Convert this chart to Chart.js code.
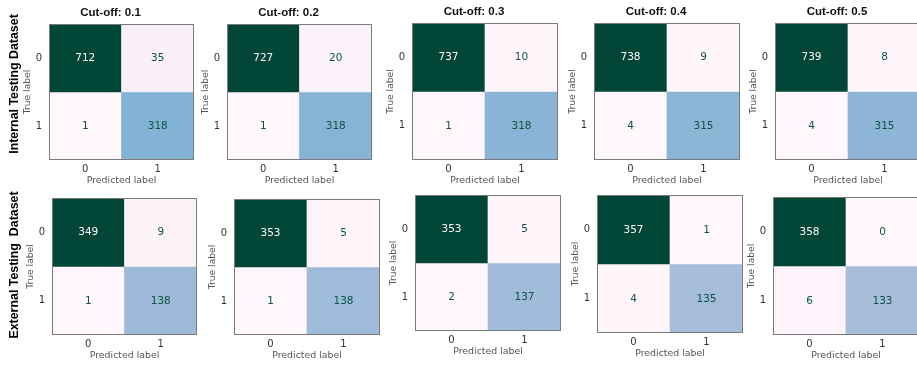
<!DOCTYPE html>
<html>
<head>
<meta charset="utf-8">
<script src="https://cdn.jsdelivr.net/npm/chart.js@4.4.1/dist/chart.umd.min.js"></script>
<style>
  html, body { margin: 0; padding: 0; background: #ffffff; }
  body { width: 917px; height: 365px; position: relative; overflow: hidden; }
  canvas.cm { position: absolute; }
  .rowlabel {
    position: absolute; white-space: pre; z-index: 5;
    font-family: "Liberation Sans", Arial, sans-serif; font-weight: bold;
    font-size: 12.4px; color: #000;
    transform: translate(-50%, -50%) rotate(-90deg);
  }
</style>
</head>
<body>
<div class="rowlabel" style="left:14px; top:84px;">Internal Testing Dataset</div>
<div class="rowlabel" style="left:14px; top:265px;">External Testing  Dataset</div>

<script>
// Decision thresholds, one panel per cut-off
const cutoffs = ['0.1', '0.2', '0.3', '0.4', '0.5'];
const classLabels = ['0', '1'];

// Internal testing set counts at each cut-off
const internalTN = [712, 727, 737, 738, 739];
const internalFP = [35, 20, 10, 9, 8];
const internalFN = [1, 1, 1, 4, 4];
const internalTP = [318, 318, 318, 315, 315];

// External testing set counts at each cut-off
const externalTN = [349, 353, 353, 357, 358];
const externalFP = [9, 5, 5, 1, 0];
const externalFN = [1, 1, 2, 4, 6];
const externalTP = [138, 138, 137, 135, 133];

// Plot-area boxes (left, top, right, bottom) of each panel
const topBoxes = [
  [49, 24, 194, 160], [227, 24, 372, 160], [412, 23, 558, 160],
  [594, 23, 740, 160], [775, 23, 921, 160]
];
const bottomBoxes = [
  [52, 198, 197, 335], [234, 199, 380, 335], [415, 195, 561, 331],
  [597, 195, 743, 333], [773, 197, 919, 335]
];

// PuBuGn colour map
const PUBUGN = ['#fff7fb', '#ece2f0', '#d0d1e6', '#a6bddb', '#67a9cf',
                '#3690c0', '#02818a', '#016c59', '#014636'];
function hexToRgb(h) {
  return [parseInt(h.slice(1, 3), 16), parseInt(h.slice(3, 5), 16), parseInt(h.slice(5, 7), 16)];
}
function cmap(t) {
  t = Math.max(0, Math.min(1, t));
  const pos = t * (PUBUGN.length - 1);
  const i = Math.min(Math.floor(pos), PUBUGN.length - 2);
  const f = pos - i;
  const a = hexToRgb(PUBUGN[i]), b = hexToRgb(PUBUGN[i + 1]);
  const c = a.map((v, k) => Math.round(v + (b[k] - v) * f));
  return 'rgb(' + c.join(',') + ')';
}

const LEFT_W = 48, RIGHT_W = 26, TOP_H = 24, BOTTOM_H = 30;

// Writes the count in the middle of every cell
const cellText = {
  id: 'cellText',
  afterDatasetsDraw(chart) {
    const ctx = chart.ctx;
    const counts = chart.options.plugins.cellText.counts;
    const flat = counts.flat();
    const lo = Math.min(...flat), hi = Math.max(...flat);
    const thresh = (lo + hi) / 2;
    ctx.save();
    ctx.font = '10.5px "DejaVu Sans", sans-serif';
    ctx.textAlign = 'center';
    ctx.textBaseline = 'middle';
    chart.data.datasets.forEach((ds, r) => {
      chart.getDatasetMeta(r).data.forEach((bar, c) => {
        const v = counts[r][c];
        ctx.fillStyle = v < thresh ? '#0d5446' : cmap(0);
        ctx.fillText(String(v), bar.x, (bar.y + bar.base) / 2 + 0.5);
      });
    });
    ctx.restore();
  }
};

// Frame around the plot area
const frame = {
  id: 'frame',
  afterDraw(chart) {
    const a = chart.chartArea, ctx = chart.ctx;
    ctx.save();
    ctx.strokeStyle = '#7a7a7a';
    ctx.lineWidth = 1;
    ctx.strokeRect(Math.round(a.left) + 0.5, Math.round(a.top) + 0.5,
                   Math.round(a.right - a.left) - 1, Math.round(a.bottom - a.top) - 1);
    ctx.restore();
  }
};

function drawMatrix(box, counts, cutoff, showTitle) {
  const [l, t, r, b] = box;
  const canvas = document.createElement('canvas');
  canvas.className = 'cm';
  const w = (r - l) + LEFT_W + RIGHT_W;
  const h = (b - t) + TOP_H + BOTTOM_H;
  canvas.width = w; canvas.height = h;
  canvas.style.left = (l - LEFT_W) + 'px';
  canvas.style.top = (t - TOP_H) + 'px';
  canvas.style.width = w + 'px';
  canvas.style.height = h + 'px';
  document.body.appendChild(canvas);

  const flat = counts.flat();
  const lo = Math.min(...flat), hi = Math.max(...flat);

  const datasets = counts.map((row, ri) => ({
    label: 'True ' + classLabels[ri],
    data: row.map((v, ci) => ({ x: classLabels[ci], y: [ri - 0.5, ri + 0.5] })),
    backgroundColor: row.map(v => cmap((v - lo) / (hi - lo))),
    borderWidth: 0,
    borderSkipped: false,
    categoryPercentage: 1,
    barPercentage: 1,
    grouped: false
  }));

  new Chart(canvas, {
    type: 'bar',
    data: { labels: classLabels, datasets },
    options: {
      responsive: false,
      animation: false,
      devicePixelRatio: 1,
      layout: { padding: { left: 0, right: 0, top: showTitle ? 0 : TOP_H, bottom: 0 } },
      plugins: {
        legend: { display: false },
        tooltip: { enabled: false },
        title: {
          display: showTitle,
          text: 'Cut-off: ' + cutoff,
          color: '#111',
          font: { family: '"Liberation Sans", Arial, sans-serif', weight: 'bold', size: 11.5, lineHeight: 1.2 },
          padding: { top: 6.1, bottom: 4.1 }
        },
        cellText: { counts }
      },
      scales: {
        x: {
          type: 'category',
          offset: true,
          grid: { display: false, drawTicks: false },
          border: { display: false },
          ticks: { color: '#333', padding: 3, font: { family: '"DejaVu Sans", sans-serif', size: 10 } },
          title: {
            display: true, text: 'Predicted label', color: '#555',
            font: { family: '"DejaVu Sans", sans-serif', size: 9.4, lineHeight: 1.2 },
            padding: { top: 0, bottom: 4 }
          },
          afterFit(s) { s.height = BOTTOM_H; }
        },
        y: {
          type: 'linear',
          min: -0.5, max: 1.5, reverse: true,
          grid: { display: false, drawTicks: false },
          border: { display: false },
          afterBuildTicks(s) { s.ticks = classLabels.map((_, i) => ({ value: i })); },
          ticks: {
            color: '#333', padding: 7,
            font: { family: '"DejaVu Sans", sans-serif', size: 10 },
            callback: v => classLabels[v]
          },
          title: {
            display: true, text: 'True label', color: '#555',
            font: { family: '"DejaVu Sans", sans-serif', size: 9.2, lineHeight: 1.2 },
            padding: { top: 21, bottom: 0 }
          },
          afterFit(s) { s.width = LEFT_W; }
        },
        // empty margin axis on the right, keeps the title offset like the panel layout
        yMargin: {
          type: 'linear', position: 'right', display: true,
          grid: { display: false, drawTicks: false },
          border: { display: false },
          ticks: { display: false },
          afterFit(s) { s.width = RIGHT_W; }
        }
      }
    },
    plugins: [cellText, frame]
  });
}

cutoffs.forEach((c, i) => {
  drawMatrix(topBoxes[i], [[internalTN[i], internalFP[i]], [internalFN[i], internalTP[i]]], c, true);
  drawMatrix(bottomBoxes[i], [[externalTN[i], externalFP[i]], [externalFN[i], externalTP[i]]], c, false);
});
</script>
</body>
</html>
